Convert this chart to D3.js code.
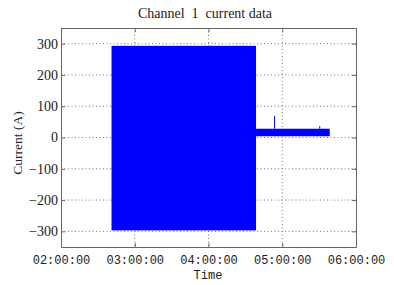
<!DOCTYPE html>
<html>
<head>
<meta charset="utf-8">
<script src="https://cdn.jsdelivr.net/npm/d3@7"></script>
<style>
  body { margin: 0; background: #fff; }
  svg text { fill: #222; }
</style>
</head>
<body>
<div id="chart"></div>
<script>
// envelope of the recorded signal, one block per segment
const segStart = ["02:41:06", "04:38:40"];
const segEnd = ["04:38:40", "05:38:40"];
const segMin = [-297, 4];
const segMax = [293, 28];
// short spikes on the second segment
const spikeTimes = ["04:53:45", "05:30:30"];
const spikeValues = [69, 36];
const yTicks = [-300, -200, -100, 0, 100, 200, 300];

const W = 394, H = 285;
const m = { left: 61, right: 38, top: 28, bottom: 38 };
const iw = W - m.left - m.right, ih = H - m.top - m.bottom;

const parse = d3.timeParse("%Y-%m-%d %H:%M:%S");
const t = s => parse("2020-01-01 " + s);

const svg = d3.select("#chart").append("svg").attr("width", W).attr("height", H);
const g = svg.append("g").attr("transform", `translate(${m.left},${m.top})`);

const x = d3.scaleTime().domain([t("02:00:00"), t("06:00:00")]).range([0, iw]);
const y = d3.scaleLinear().domain([-350, 350]).range([ih, 0]);

// grid
const hours = d3.timeHour.every(1).range(t("02:00:00"), t("06:00:01"));
g.selectAll("line.gx").data(hours.slice(1, -1)).enter().append("line")
  .attr("x1", d => x(d)).attr("x2", d => x(d))
  .attr("y1", 0).attr("y2", ih)
  .attr("stroke", "#555").attr("stroke-width", 0.8).attr("stroke-dasharray", "1,2.5");
g.selectAll("line.gy").data(yTicks).enter().append("line")
  .attr("x1", 0).attr("x2", iw)
  .attr("y1", d => y(d)).attr("y2", d => y(d))
  .attr("stroke", "#555").attr("stroke-width", 0.8).attr("stroke-dasharray", "1,2.5");

// data
g.selectAll("rect.seg").data(segStart).enter().append("rect")
  .attr("x", (d, i) => x(t(d)))
  .attr("width", (d, i) => x(t(segEnd[i])) - x(t(d)))
  .attr("y", (d, i) => y(segMax[i]))
  .attr("height", (d, i) => y(segMin[i]) - y(segMax[i]))
  .attr("fill", "#0000ff");
g.selectAll("line.spike").data(spikeTimes).enter().append("line")
  .attr("x1", d => x(t(d))).attr("x2", d => x(t(d)))
  .attr("y1", y(segMax[1])).attr("y2", (d, i) => y(spikeValues[i]))
  .attr("stroke", "#0000ff").attr("stroke-width", 1);

// axes (ticks inside, box)
const xAx = d3.axisBottom(x).tickValues(hours).tickFormat(d3.timeFormat("%H:%M:%S"))
  .tickSizeInner(-4).tickSizeOuter(0).tickPadding(8);
const gx = g.append("g").attr("transform", `translate(0,${ih})`).call(xAx);
gx.selectAll("text").style("font-family", "'Liberation Mono', monospace").style("font-size", "12px");

const yAx = d3.axisLeft(y).tickValues(yTicks).tickFormat(d3.format("d"))
  .tickSizeInner(-4).tickSizeOuter(0).tickPadding(3);
const gy = g.append("g").call(yAx);
gy.selectAll("text").style("font-family", "'Liberation Serif', serif").style("font-size", "14px");

g.append("g").call(d3.axisTop(x).tickValues(hours).tickFormat("").tickSizeInner(-4).tickSizeOuter(0));
g.append("g").attr("transform", `translate(${iw},0)`)
  .call(d3.axisRight(y).tickValues(yTicks).tickFormat("").tickSizeInner(-4).tickSizeOuter(0));
svg.selectAll(".domain, .tick line").attr("stroke", "#666");

// labels
svg.append("text").attr("x", 205).attr("y", 18).attr("text-anchor", "middle")
  .style("font-family", "'Liberation Serif', serif").style("font-size", "14px")
  .style("white-space", "pre")
  .text("Channel  1  current data");
svg.append("text").attr("x", 208).attr("y", 279).attr("text-anchor", "middle")
  .style("font-family", "'Liberation Mono', monospace").style("font-size", "12px")
  .text("Time");
svg.append("text").attr("transform", "translate(22,143) rotate(-90)").attr("text-anchor", "middle")
  .style("font-family", "'Liberation Serif', serif").style("font-size", "13.5px")
  .text("Current (A)");
</script>
</body>
</html>
